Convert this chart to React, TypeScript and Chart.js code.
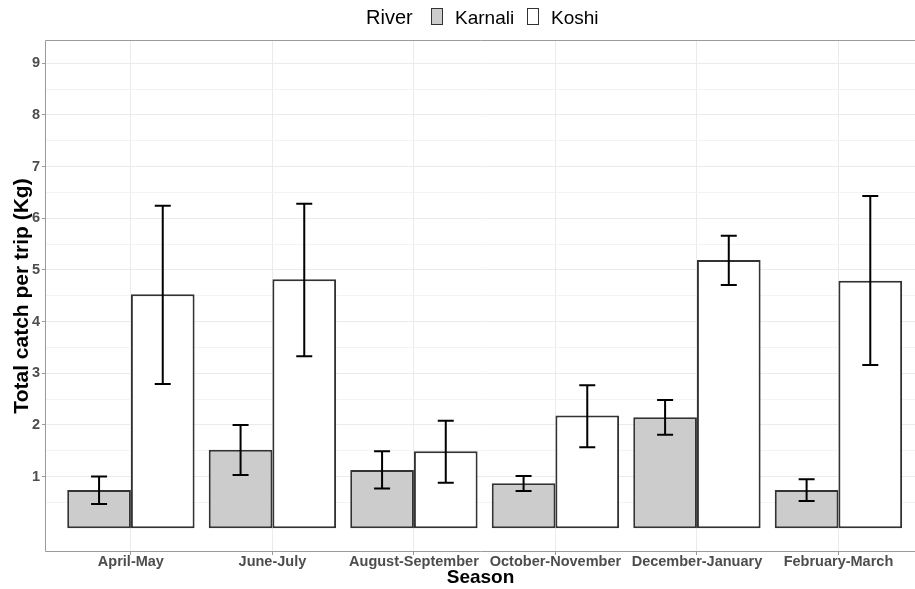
import React, { useEffect, useRef } from 'react';
import { Chart, registerables } from 'chart.js';

Chart.register(...registerables);

const seasons = ['April-May', 'June-July', 'August-September', 'October-November', 'December-January', 'February-March'];
const karnali = [0.74, 1.52, 1.13, 0.87, 2.15, 0.74];
const karnaliLow = [0.47, 1.03, 0.77, 0.72, 1.81, 0.53];
const karnaliHigh = [1.0, 2.0, 1.49, 1.01, 2.48, 0.95];
const koshi = [4.53, 4.82, 1.49, 2.18, 5.19, 4.79];
const koshiLow = [2.79, 3.33, 0.88, 1.57, 4.71, 3.16];
const koshiHigh = [6.24, 6.28, 2.08, 2.77, 5.66, 6.43];
const yMajor = [1, 2, 3, 4, 5, 6, 7, 8, 9];
const yMinor = [0.5, 1.5, 2.5, 3.5, 4.5, 5.5, 6.5, 7.5, 8.5];
const legendTitle = 'River';
const seriesNames = ['Karnali', 'Koshi'];
const seriesFill = ['#cccccc', '#ffffff'];

const FONT = '"Liberation Sans", Arial, sans-serif';

const errorBarPlugin = {
  id: 'errorBars',
  afterDatasetsDraw(chart: any) {
    const ctx = chart.ctx;
    const y = chart.scales.y;
    const lows = [karnaliLow, koshiLow];
    const highs = [karnaliHigh, koshiHigh];
    ctx.save();
    ctx.strokeStyle = '#000';
    ctx.lineWidth = 2;
    for (let d = 0; d < 2; d++) {
      const meta = chart.getDatasetMeta(d);
      meta.data.forEach((el: any, i: number) => {
        const x = el.x;
        const y1 = y.getPixelForValue(lows[d][i]);
        const y2 = y.getPixelForValue(highs[d][i]);
        ctx.beginPath();
        ctx.moveTo(x, y1);
        ctx.lineTo(x, y2);
        ctx.moveTo(x - 8, y1);
        ctx.lineTo(x + 8, y1);
        ctx.moveTo(x - 8, y2);
        ctx.lineTo(x + 8, y2);
        ctx.stroke();
      });
    }
    ctx.restore();
  },
  afterDraw(chart: any) {
    const ctx = chart.ctx;
    const a = chart.chartArea;
    ctx.save();
    ctx.strokeStyle = '#9a9a9a';
    ctx.lineWidth = 1;
    const l = Math.round(a.left) - 0.5;
    const t = Math.round(a.top) - 0.5;
    const b = Math.round(a.bottom) + 0.5;
    ctx.beginPath();
    ctx.moveTo(chart.width, t);
    ctx.lineTo(l, t);
    ctx.lineTo(l, b);
    ctx.lineTo(chart.width, b);
    ctx.stroke();
    // legend
    ctx.font = '19px ' + FONT;
    ctx.fillStyle = '#000';
    ctx.textBaseline = 'alphabetic';
    const base = 23.5;
    ctx.font = '20px ' + FONT;
    ctx.fillText(legendTitle, 366, base);
    ctx.font = '19px ' + FONT;
    const boxX = [431, 527];
    const textX = [455, 551];
    for (let s = 0; s < seriesNames.length; s++) {
      ctx.fillStyle = seriesFill[s];
      ctx.fillRect(boxX[s], 8, 11, 16);
      ctx.strokeStyle = '#333';
      ctx.lineWidth = 1;
      ctx.strokeRect(boxX[s] + 0.5, 8.5, 11, 16);
      ctx.fillStyle = '#000';
      ctx.fillText(seriesNames[s], textX[s], base);
    }
    ctx.restore();
  },
};

export default function App() {
  const ref = useRef<HTMLCanvasElement>(null);
  useEffect(() => {
    document.body.style.margin = '0';
    const canvas = ref.current!;
    const chart = new Chart(canvas, {
      type: 'bar',
      data: {
        datasets: [
          {
            label: seriesNames[0],
            data: karnali.map((v, i) => ({ x: i + 1, y: v })),
            backgroundColor: seriesFill[0],
            borderColor: '#333333',
            borderWidth: 2,
            borderSkipped: false,
            categoryPercentage: 0.9,
            barPercentage: 1,
          },
          {
            label: seriesNames[1],
            data: koshi.map((v, i) => ({ x: i + 1, y: v })),
            backgroundColor: seriesFill[1],
            borderColor: '#333333',
            borderWidth: 2,
            borderSkipped: false,
            categoryPercentage: 0.9,
            barPercentage: 1,
          },
        ],
      },
      options: {
        animation: false,
        responsive: false,
        devicePixelRatio: 1,
        layout: { padding: { top: 41, right: 0, left: 0, bottom: 0 } },
        plugins: {
          legend: { display: false },
          tooltip: { enabled: false },
        },
        scales: {
          x: {
            type: 'linear',
            min: 0.4,
            max: 6.541,
            offset: false,
            afterBuildTicks: (scale: any) => {
              scale.ticks = seasons.map((_, i) => ({ value: i + 1 }));
            },
            afterFit: (scale: any) => {
              scale.height = 38;
            },
            ticks: {
              autoSkip: false,
              maxRotation: 0,
              minRotation: 0,
              padding: -2,
              color: '#4d4d4d',
              font: { family: FONT, size: 14.5, weight: 'bold' },
              callback: (v: any) => seasons[Math.round(v) - 1] ?? '',
            },
            grid: {
              offset: false,
              color: '#ebebeb',
              tickColor: '#9a9a9a',
              tickLength: 4,
              lineWidth: 1,
            },
            border: { display: false },
            title: {
              display: true,
              text: 'Season',
              color: '#000',
              font: { family: FONT, size: 19, weight: 'bold' },
              padding: { top: 0, bottom: 0 },
            },
          },
          y: {
            type: 'linear',
            min: -0.44,
            max: 9.43,
            afterBuildTicks: (scale: any) => {
              scale.ticks = [...yMinor, ...yMajor].sort((a, b) => a - b).map((v) => ({ value: v }));
            },
            afterFit: (scale: any) => {
              scale.width = 46;
            },
            ticks: {
              autoSkip: false,
              padding: 2,
              color: '#4d4d4d',
              font: { family: FONT, size: 14.5, weight: 'bold' },
              callback: (v: any) => (yMajor.includes(v) ? String(v) : ''),
            },
            grid: {
              color: (c: any) => (yMajor.includes(c.tick?.value) ? '#ebebeb' : '#f3f3f3'),
              tickColor: (c: any) => (yMajor.includes(c.tick?.value) ? '#9a9a9a' : 'rgba(0,0,0,0)'),
              tickLength: 4,
              lineWidth: 1,
            },
            border: { display: false },
            title: {
              display: true,
              text: 'Total catch per trip (Kg)',
              color: '#000',
              font: { family: FONT, size: 21, weight: 'bold' },
              padding: { top: 10, bottom: 0 },
            },
          },
        },
      },
      plugins: [errorBarPlugin],
    } as any);
    return () => chart.destroy();
  }, []);
  return (
    <div style={{ width: 915, height: 589 }}>
      <canvas ref={ref} width={915} height={589} style={{ display: 'block' }} />
    </div>
  );
}
